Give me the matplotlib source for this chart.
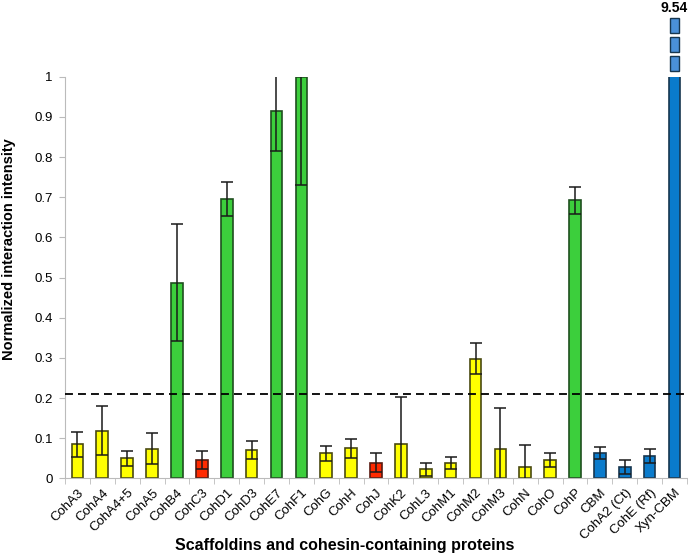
import matplotlib
matplotlib.use("Agg")
import matplotlib.pyplot as plt
from matplotlib.ticker import FixedLocator

plt.rcParams['font.family'] = ['Liberation Sans', 'DejaVu Sans']

# data
names = ['CohA3', 'CohA4', 'CohA4+5', 'CohA5', 'CohB4', 'CohC3', 'CohD1', 'CohD3',
         'CohE7', 'CohF1', 'CohG', 'CohH', 'CohJ', 'CohK2', 'CohL3', 'CohM1',
         'CohM2', 'CohM3', 'CohN', 'CohO', 'CohP', 'CBM', 'CohA2 (Ct)', 'CohE (Rf)',
         'Xyn-CBM']
values = [0.085, 0.118, 0.050, 0.074, 0.487, 0.046, 0.695, 0.070,
          0.915, 1.0, 0.062, 0.075, 0.039, 0.085, 0.022, 0.037,
          0.298, 0.074, 0.029, 0.046, 0.692, 0.062, 0.029, 0.056,
          9.54]
errors = [0.031, 0.061, 0.019, 0.039, 0.146, 0.023, 0.042, 0.023,
          0.099, 0.27, 0.019, 0.024, 0.023, 0.117, 0.017, 0.015,
          0.038, 0.100, 0.054, 0.017, 0.034, 0.015, 0.017, 0.018,
          0.0]
groups = ['y', 'y', 'y', 'y', 'g', 'r', 'g', 'y',
          'g', 'g', 'y', 'y', 'r', 'y', 'y', 'y',
          'y', 'y', 'y', 'y', 'g', 'b', 'b', 'b',
          'b']
yticks = [0, 0.1, 0.2, 0.3, 0.4, 0.5, 0.6, 0.7, 0.8, 0.9, 1]
ytick_labels = ['0', '0.1', '0.2', '0.3', '0.4', '0.5', '0.6', '0.7', '0.8', '0.9', '1']
threshold = 0.21

fill = {'y': '#ffff00', 'g': '#3ccf3c', 'r': '#ff2a00', 'b': '#0a7bcc'}
edge = {'y': '#4a4a10', 'g': '#1f4f1f', 'r': '#5a1a10', 'b': '#17364f'}

fig = plt.figure(figsize=(6.88, 5.56), dpi=100)
ax = fig.add_axes([0.0945, 0.1397, 0.904, 0.7223])

x = list(range(len(names)))
ax.bar(x, values, width=0.47,
       color=[fill[g] for g in groups],
       edgecolor=[edge[g] for g in groups], linewidth=1.2, zorder=2)
ax.errorbar(x, values, yerr=errors, fmt='none', ecolor='#1a1a1a',
            elinewidth=1.1, capsize=4, capthick=1.1, zorder=3)

ax.axhline(threshold, color='black', lw=1.3, dashes=(4.4, 2.8), zorder=4)

# broken-axis marker above the huge Xyn-CBM bar
last = len(names) - 1
for i in range(3):
    ax.bar(last, 0.037, bottom=1.014 + 0.0473 * i, width=0.36,
           color='#4a90d9', edgecolor='#17364f', linewidth=1.0, clip_on=False)
ax.text(last, 1.171, f"{values[last]:.2f}", ha='center', va='center',
        fontsize=10, fontweight='bold', clip_on=False)

ax.set_xlim(-0.5, len(names) - 0.5)
ax.set_ylim(0, 1)
ax.set_yticks(yticks)
ax.set_yticklabels(ytick_labels)
ax.set_xticks(x)
ax.set_xticklabels(names, rotation=45, ha='right', rotation_mode='anchor')
ax.xaxis.set_minor_locator(FixedLocator([i + 0.5 for i in range(-1, len(names))]))
ax.tick_params(axis='x', which='major', length=0, pad=6, labelsize=9.5)
ax.tick_params(axis='x', which='minor', length=4, color='#bbbbbb')
ax.tick_params(axis='y', length=4, color='#bbbbbb', labelsize=9.5, pad=5)

for side in ['top', 'right']:
    ax.spines[side].set_visible(False)
for side in ['left', 'bottom']:
    ax.spines[side].set_color('#bbbbbb')

ax.set_ylabel('Normalized interaction intensity', fontsize=10.5, fontweight='bold')
ax.yaxis.set_label_coords(-0.079, 0.571)
ax.set_xlabel('Scaffoldins and cohesin-containing proteins', fontsize=11.5,
              fontweight='bold')
ax.xaxis.set_label_coords(0.45, -0.149)

fig.savefig('out.png', dpi=100)
